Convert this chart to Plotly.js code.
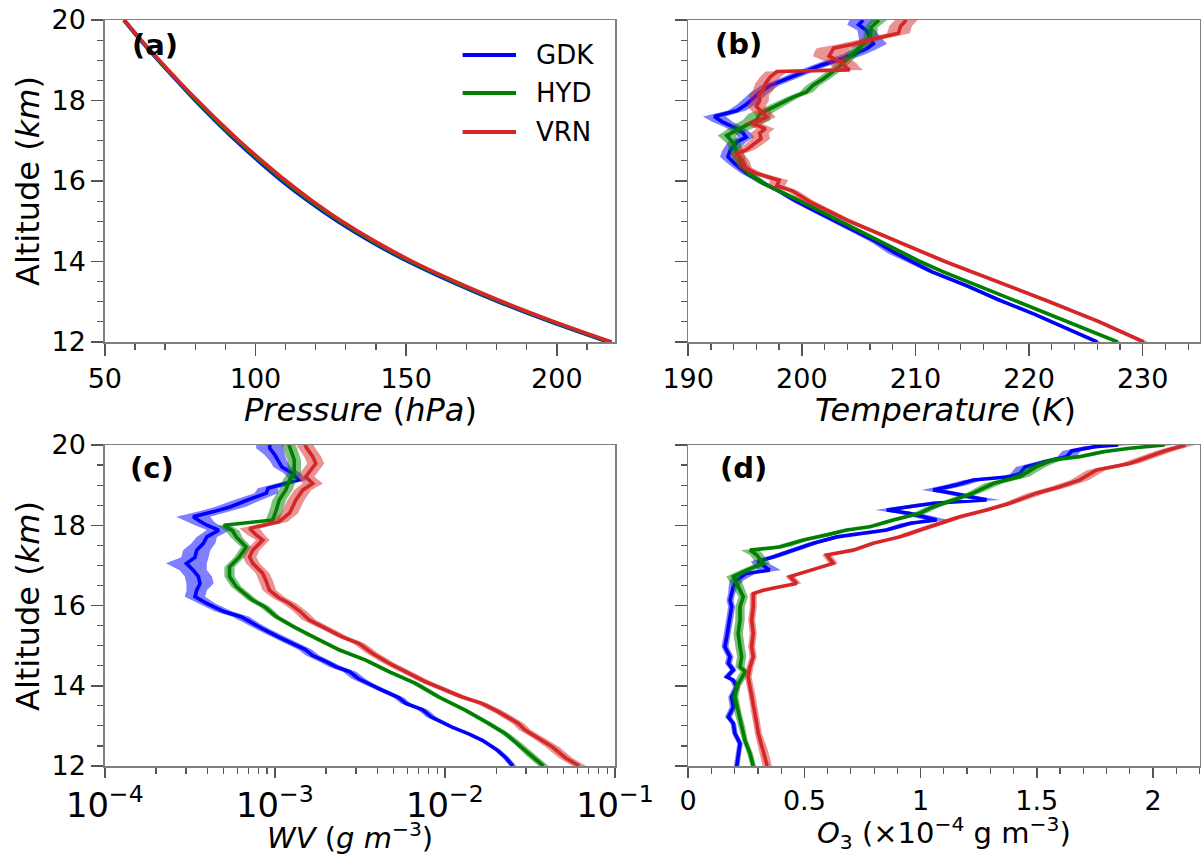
<!DOCTYPE html>
<html><head><meta charset="utf-8">
<script src="https://cdn.plot.ly/plotly-3.0.1.min.js"></script>
<style>html,body{margin:0;padding:0;background:#fff}#chart{width:1201px;height:855px}</style>
</head><body><div id="chart"></div>
<script>
// ---------- DATA ----------
const stations = ['GDK', 'HYD', 'VRN'];

// (a) Pressure (hPa)
const zP = [12,12.5,13,13.5,14,14.5,15,15.5,16,16.5,17,17.5,18,18.5,19,19.5,20];
const pGDK = [217.0,198.0,180.6,164.9,150.6,138.2,127.2,117.5,108.8,100.9,93.5,86.6,80.0,73.8,67.7,61.8,56.3];
const pHYD = [217.5,198.6,181.2,165.6,151.3,138.9,127.9,118.2,109.5,101.5,94.0,87.0,80.4,74.0,67.9,62.0,56.4];
const pVRN = [218.2,199.3,182.0,166.4,152.1,139.7,128.7,119.0,110.2,102.2,94.6,87.5,80.8,74.3,68.1,62.1,56.5];

// (b) Temperature (K): altitude, mean, half-width of shading
const zT_GDK = [12.0,12.35,12.7,13.05,13.4,13.75,14.0,14.2,14.5,14.75,15.0,15.25,15.5,15.75,15.95,16.2,16.43,16.6,16.76,16.97,17.09,17.2,17.34,17.47,17.6,17.75,17.9,18.05,18.2,18.37,18.54,18.7,18.87,19.0,19.15,19.29,19.41,19.55,19.74,19.88,20.0];
const T_GDK  = [226.0,223.2,220.4,217.3,214.5,211.4,209.6,208.3,206.5,204.7,202.9,201.2,199.5,198.0,196.6,195.1,194.1,193.5,193.7,194.3,195.1,194.8,194.0,193.0,192.3,194.3,195.1,195.7,196.3,197.2,198.7,200.1,201.6,203.1,204.6,205.7,206.3,206.0,205.7,205.0,205.4];
const sT_GDK = [0.3,0.3,0.3,0.3,0.4,0.4,0.5,0.7,0.5,0.4,0.4,0.4,0.4,0.4,0.4,0.5,0.6,0.7,0.7,0.8,0.7,0.7,0.8,0.9,1.0,0.8,0.8,0.8,0.8,0.8,0.7,0.8,0.8,1.0,1.0,1.0,1.2,1.0,0.8,1.0,1.2];
const zT_HYD = [12.0,12.35,12.7,13.05,13.4,13.75,14.0,14.5,15.0,15.5,15.94,16.18,16.43,16.68,16.93,17.13,17.22,17.38,17.51,17.67,17.8,17.92,18.08,18.21,18.38,18.54,18.79,19.0,19.15,19.33,19.57,19.82,20.0];
const T_HYD  = [227.8,224.7,221.6,218.6,215.6,212.4,210.4,206.9,203.3,199.9,196.6,195.4,194.7,194.3,194.0,193.4,194.0,195.1,196.0,196.3,197.3,198.1,199.2,200.4,201.0,201.9,203.1,203.9,204.4,205.1,206.0,206.1,206.8];
const sT_HYD = [0.3,0.3,0.3,0.3,0.3,0.3,0.3,0.3,0.3,0.4,0.4,0.5,0.5,0.6,0.6,0.8,0.9,1.2,1.2,1.0,0.8,0.7,0.6,0.6,0.6,0.6,0.6,0.6,0.6,0.6,0.6,0.6,0.7];
const zT_VRN = [12.0,12.5,13.0,13.5,14.0,14.5,15.0,15.5,15.75,15.88,16.02,16.19,16.33,16.5,16.68,16.77,16.94,17.05,17.19,17.3,17.42,17.59,17.68,17.85,18.0,18.13,18.26,18.42,18.58,18.72,18.76,18.85,18.93,19.1,19.2,19.3,19.4,19.5,19.67,19.85,20.0];
const T_VRN  = [230.1,226.2,221.8,217.3,212.6,208.4,204.2,200.6,199.2,197.8,198.0,196.0,195.0,194.8,194.3,195.1,195.9,196.4,196.3,196.8,195.7,196.9,196.6,196.0,196.3,196.2,196.6,196.8,197.2,197.8,204.2,203.8,203.6,202.4,202.6,202.8,204.5,205.8,208.5,208.7,209.2];
const sT_VRN = [0.4,0.4,0.4,0.4,0.4,0.4,0.4,0.5,0.5,0.7,0.8,0.6,0.6,0.6,0.6,0.7,0.8,0.8,0.8,0.8,0.8,0.8,0.8,0.8,0.8,0.9,0.9,0.9,0.9,1.0,1.2,1.2,1.2,1.4,1.5,1.5,1.3,1.0,1.0,1.0,1.0];

// (c) Water vapour (g m-3): altitude, mean, half-width of shading (decades)
const zW_GDK = [12.0,12.2,12.39,12.64,12.8,12.97,13.22,13.4,13.56,13.7,13.89,14.05,14.18,14.35,14.47,14.6,14.76,14.9,15.05,15.2,15.39,15.55,15.72,15.85,15.97,16.05,16.22,16.38,16.55,16.72,16.88,17.05,17.2,17.38,17.55,17.71,17.88,18.0,18.1,18.21,18.34,18.46,18.63,18.8,18.92,19.05,19.13,19.3,19.45,19.6,19.75,19.92,20.0];
const W_GDK  = [0.0251,0.0229,0.0204,0.0166,0.0138,0.0110,0.00832,0.00741,0.00589,0.00537,0.00427,0.00355,0.00309,0.00275,0.00229,0.00200,0.00166,0.00151,0.00126,0.00107,0.000871,0.000741,0.000631,0.000501,0.000437,0.000398,0.000339,0.000347,0.000363,0.000355,0.000331,0.000302,0.000339,0.000347,0.000380,0.000398,0.000468,0.000398,0.000363,0.000331,0.000437,0.000550,0.000692,0.000891,0.000912,0.00117,0.00138,0.00126,0.00110,0.00105,0.00100,0.000933,0.000933];
const sW_GDK = [0.02,0.02,0.02,0.02,0.02,0.02,0.03,0.03,0.03,0.03,0.03,0.03,0.04,0.04,0.04,0.04,0.04,0.04,0.04,0.04,0.04,0.04,0.05,0.05,0.05,0.05,0.06,0.06,0.08,0.08,0.08,0.12,0.08,0.08,0.07,0.06,0.07,0.07,0.08,0.10,0.09,0.09,0.08,0.07,0.06,0.05,0.05,0.05,0.05,0.05,0.06,0.08,0.08];
const zW_HYD = [12.0,12.25,12.56,12.81,13.06,13.39,13.72,14.06,14.35,14.64,14.89,15.22,15.47,15.72,15.97,16.13,16.47,16.72,16.96,17.21,17.46,17.71,17.86,18.0,18.13,18.38,18.63,18.88,19.13,19.29,19.63,19.96,20.0];
const W_HYD  = [0.0380,0.0324,0.0269,0.0226,0.0181,0.0132,0.00920,0.00671,0.00469,0.00342,0.00240,0.00166,0.00129,0.00102,0.000871,0.000741,0.000593,0.000541,0.000541,0.000619,0.000678,0.000593,0.000565,0.000501,0.000970,0.00102,0.00106,0.00116,0.00122,0.00130,0.00130,0.00122,0.00120];
const sW_HYD = [0.03,0.03,0.025,0.025,0.025,0.025,0.025,0.025,0.025,0.025,0.025,0.025,0.025,0.025,0.03,0.03,0.03,0.03,0.03,0.03,0.03,0.035,0.04,0.04,0.04,0.04,0.04,0.04,0.04,0.04,0.04,0.04,0.04];
const zW_VRN = [12.0,12.2,12.48,12.7,12.9,13.06,13.35,13.56,13.72,13.93,14.1,14.35,14.56,14.81,15.05,15.22,15.39,15.64,15.85,16.05,16.2,16.38,16.6,16.8,17.05,17.21,17.38,17.63,17.76,17.92,18.09,18.3,18.63,18.88,19.04,19.21,19.54,19.71,19.96,20.0];
const W_VRN  = [0.0617,0.0513,0.0427,0.0355,0.0295,0.0270,0.0207,0.0165,0.0126,0.00961,0.00769,0.00587,0.00469,0.00374,0.00313,0.00249,0.00209,0.00159,0.00141,0.00122,0.00105,0.000929,0.000891,0.000849,0.000741,0.000710,0.000741,0.000849,0.000776,0.000710,0.00106,0.00122,0.00133,0.00146,0.00167,0.00152,0.00174,0.00167,0.00152,0.00151];
const sW_VRN = [0.04,0.04,0.04,0.035,0.035,0.035,0.035,0.035,0.035,0.035,0.035,0.035,0.035,0.035,0.035,0.035,0.035,0.04,0.04,0.04,0.04,0.04,0.04,0.04,0.04,0.04,0.04,0.04,0.05,0.06,0.05,0.05,0.05,0.05,0.06,0.05,0.05,0.05,0.05,0.05];

// (d) Ozone (x1e-4 g m-3): altitude, mean, half-width of shading
const zO_GDK = [12.0,12.31,12.56,12.81,13.06,13.22,13.47,13.72,13.97,14.14,14.22,14.39,14.56,14.72,14.97,15.22,15.47,15.72,15.97,16.13,16.3,16.47,16.63,16.8,16.88,17.0,17.1,17.21,17.38,17.55,17.71,17.8,17.88,18.05,18.13,18.3,18.38,18.55,18.63,18.72,18.8,18.88,19.0,19.13,19.21,19.29,19.45,19.63,19.71,19.85,19.96,20.0];
const O_GDK  = [0.209,0.216,0.223,0.201,0.194,0.173,0.194,0.187,0.209,0.194,0.166,0.194,0.173,0.18,0.158,0.166,0.173,0.18,0.187,0.18,0.187,0.194,0.209,0.25,0.35,0.32,0.30,0.366,0.452,0.538,0.639,0.753,0.854,0.954,1.069,0.95,0.854,1.054,1.284,1.2,1.14,1.054,1.15,1.226,1.384,1.427,1.45,1.57,1.628,1.65,1.75,1.85];
const sO_GDK = [0.012,0.012,0.012,0.012,0.012,0.015,0.015,0.015,0.015,0.015,0.015,0.015,0.015,0.015,0.015,0.015,0.015,0.015,0.015,0.015,0.015,0.02,0.03,0.04,0.05,0.04,0.03,0.03,0.03,0.03,0.03,0.03,0.03,0.04,0.05,0.05,0.05,0.06,0.06,0.05,0.05,0.05,0.05,0.04,0.04,0.04,0.04,0.04,0.04,0.04,0.05,0.06];
const zO_HYD = [12.0,12.31,12.64,12.97,13.31,13.72,13.97,14.22,14.35,14.47,14.72,14.97,15.3,15.64,15.97,16.22,16.55,16.72,16.88,17.05,17.26,17.38,17.46,17.63,17.76,17.88,17.96,18.13,18.3,18.45,18.63,18.8,19.04,19.21,19.46,19.63,19.71,19.83,19.92,20.0];
const O_HYD  = [0.28,0.266,0.244,0.23,0.215,0.201,0.209,0.23,0.245,0.223,0.23,0.223,0.215,0.223,0.223,0.237,0.209,0.194,0.252,0.323,0.295,0.266,0.395,0.495,0.596,0.682,0.782,0.882,0.997,1.05,1.14,1.226,1.312,1.427,1.499,1.57,1.685,1.785,1.90,2.05];
const sO_HYD = [0.012,0.012,0.012,0.015,0.015,0.015,0.015,0.02,0.02,0.02,0.02,0.02,0.02,0.02,0.02,0.02,0.025,0.03,0.03,0.03,0.03,0.04,0.04,0.03,0.03,0.03,0.03,0.03,0.03,0.03,0.03,0.03,0.04,0.04,0.04,0.04,0.04,0.04,0.04,0.04];
const zO_VRN = [12.0,12.39,12.81,13.31,13.81,14.22,14.47,14.72,14.97,15.3,15.64,15.97,16.3,16.38,16.47,16.55,16.72,16.88,17.05,17.26,17.38,17.55,17.71,17.88,18.05,18.21,18.38,18.55,18.8,18.96,19.13,19.38,19.54,19.7,19.85,20.0];
const O_VRN  = [0.34,0.323,0.302,0.287,0.273,0.258,0.266,0.28,0.273,0.28,0.273,0.28,0.28,0.323,0.395,0.467,0.438,0.524,0.624,0.596,0.71,0.796,0.911,0.997,1.083,1.169,1.284,1.384,1.499,1.599,1.685,1.757,1.90,1.98,2.05,2.14];
const sO_VRN = [0.02,0.02,0.015,0.015,0.015,0.015,0.015,0.015,0.015,0.015,0.015,0.015,0.015,0.02,0.02,0.02,0.02,0.02,0.02,0.02,0.02,0.02,0.03,0.03,0.03,0.03,0.03,0.03,0.04,0.04,0.04,0.04,0.04,0.04,0.04,0.04];

// axis tick settings and titles
const altTicks = [12, 14, 16, 18, 20];
const axisTitles = {
  alt: 'Altitude (<i>km</i>)',
  p: '<i>Pressure</i> (<i>hPa</i>)',
  t: '<i>Temperature</i> (<i>K</i>)',
  wv: '<i>WV</i> (<i>g m</i><sup>−3</sup>)',
  o3: '<i>O</i><sub>3</sub> (×10<sup>−4</sup> g m<sup>−3</sup>)'
};

// ---------- STYLE ----------
const FONT = 'DejaVu Sans, Verdana, sans-serif';
const lineColors = {GDK: '#0000ff', HYD: '#008000', VRN: '#d62728'};
const bandColors = {GDK: 'rgba(0,0,255,0.5)', HYD: 'rgba(0,128,0,0.5)', VRN: 'rgba(214,39,40,0.5)'};

const traces = [];
function band(xa, ya, z, v, s, st, log) {
  const lo = v.map((d, i) => log ? d * Math.pow(10, -s[i]) : d - s[i]);
  const hi = v.map((d, i) => log ? d * Math.pow(10, s[i]) : d + s[i]);
  traces.push({
    type: 'scatter', mode: 'lines', xaxis: xa, yaxis: ya,
    x: lo.concat(hi.slice().reverse()), y: z.concat(z.slice().reverse()),
    fill: 'toself', fillcolor: bandColors[st], line: {width: 0, color: bandColors[st]},
    hoverinfo: 'skip', showlegend: false
  });
}
function line(xa, ya, z, v, st, smooth) {
  traces.push({
    type: 'scatter', mode: 'lines', xaxis: xa, yaxis: ya, x: v, y: z, name: st,
    line: {color: lineColors[st], width: 3.6, shape: smooth ? 'spline' : 'linear', smoothing: 1},
    showlegend: false
  });
}

// (a)
line('x', 'y', zP, pGDK, 'GDK', true);
line('x', 'y', zP, pHYD, 'HYD', true);
line('x', 'y', zP, pVRN, 'VRN', true);
// (b)
band('x2', 'y2', zT_GDK, T_GDK, sT_GDK, 'GDK'); line('x2', 'y2', zT_GDK, T_GDK, 'GDK');
band('x2', 'y2', zT_HYD, T_HYD, sT_HYD, 'HYD'); line('x2', 'y2', zT_HYD, T_HYD, 'HYD');
band('x2', 'y2', zT_VRN, T_VRN, sT_VRN, 'VRN'); line('x2', 'y2', zT_VRN, T_VRN, 'VRN');
// (c)
band('x3', 'y3', zW_GDK, W_GDK, sW_GDK, 'GDK', true); line('x3', 'y3', zW_GDK, W_GDK, 'GDK');
band('x3', 'y3', zW_HYD, W_HYD, sW_HYD, 'HYD', true); line('x3', 'y3', zW_HYD, W_HYD, 'HYD');
band('x3', 'y3', zW_VRN, W_VRN, sW_VRN, 'VRN', true); line('x3', 'y3', zW_VRN, W_VRN, 'VRN');
// (d)
band('x4', 'y4', zO_GDK, O_GDK, sO_GDK, 'GDK'); line('x4', 'y4', zO_GDK, O_GDK, 'GDK');
band('x4', 'y4', zO_HYD, O_HYD, sO_HYD, 'HYD'); line('x4', 'y4', zO_HYD, O_HYD, 'HYD');
band('x4', 'y4', zO_VRN, O_VRN, sO_VRN, 'VRN'); line('x4', 'y4', zO_VRN, O_VRN, 'VRN');

function ax(extra) {
  const minorBase = {ticks: 'outside', ticklen: 6, tickwidth: 1.2, tickcolor: '#555', showgrid: false};
  const base = {
    showline: true, linecolor: '#808080', linewidth: 1.5, mirror: true,
    ticks: 'outside', ticklen: 12, tickwidth: 1.5, tickcolor: '#555',
    showgrid: false, zeroline: false, fixedrange: true,
    tickfont: {family: FONT, size: 27, color: '#000'}
  };
  const out = Object.assign(base, extra);
  out.minor = Object.assign(minorBase, extra.minor || {});
  return out;
}
const titleFont = {family: FONT, size: 32, color: '#000'};
const titleFontLow = {family: FONT, size: 29, color: '#000'};
const dom = {
  xL: [104.8 / 1201, 615 / 1201], xR: [688.2 / 1201, 1199.5 / 1201],
  yT: [1 - 342 / 855, 1 - 20 / 855], yB: [1 - 766 / 855, 1 - 445 / 855]
};
const yBase = (d, anchor, labels) => ax({
  domain: d, anchor: anchor, range: [12, 20], tickvals: altTicks, minor: {dtick: 0.5, tick0: 12},
  showticklabels: labels
});

const layout = {
  width: 1201, height: 855, margin: {l: 0, r: 0, t: 0, b: 0},
  paper_bgcolor: '#fff', plot_bgcolor: '#fff', showlegend: false,
  font: {family: FONT, color: '#000'},
  xaxis: ax({domain: dom.xL, anchor: 'y', range: [50, 219.3], tick0: 50, dtick: 50, minor: {dtick: 10, tick0: 50}}),
  yaxis: yBase(dom.yT, 'x', true),
  xaxis2: ax({domain: dom.xR, anchor: 'y2', range: [190, 235], tick0: 190, dtick: 10, minor: {dtick: 2, tick0: 190}}),
  yaxis2: yBase(dom.yT, 'x2', false),
  xaxis3: ax({domain: dom.xL, anchor: 'y3', type: 'log', range: [-4, -1], dtick: 1, exponentformat: 'power', showexponent: 'all',
    ticklen: 10, minor: {dtick: 'D1'}}),
  yaxis3: yBase(dom.yB, 'x3', true),
  xaxis4: ax({domain: dom.xR, anchor: 'y4', range: [0, 2.2], tick0: 0, dtick: 0.5, ticklen: 10, minor: {dtick: 0.1, tick0: 0}}),
  yaxis4: yBase(dom.yB, 'x4', false),
  annotations: [],
  shapes: []
};

// axis titles placed as in the reference (pixel centre positions)
const titlePos = [
  [axisTitles.alt, 28, 181, -90, titleFont], [axisTitles.alt, 28, 606, -90, titleFont],
  [axisTitles.p, 360, 410, 0, titleFont], [axisTitles.t, 945, 410, 0, titleFont],
  [axisTitles.wv, 350, 836, 0, titleFontLow], [axisTitles.o3, 944, 833, 0, titleFontLow]
];
titlePos.forEach(t => layout.annotations.push({
  text: t[0], xref: 'paper', yref: 'paper', x: t[1] / 1201, y: 1 - t[2] / 855, textangle: t[3],
  xanchor: 'center', yanchor: 'middle', showarrow: false, font: t[4], borderpad: 0
}));

// panel labels
const panelLabels = [['(a)', 130, 44.5], ['(b)', 713, 43.5], ['(c)', 128, 468.5], ['(d)', 718, 467.5]];
panelLabels.forEach(p => layout.annotations.push({
  text: '<b>' + p[0] + '</b>', xref: 'paper', yref: 'paper', x: p[1] / 1201, y: 1 - p[2] / 855,
  xanchor: 'left', yanchor: 'middle', showarrow: false, font: {family: FONT, size: 29, color: '#000'}
}));
// legend (drawn in panel a)
const legendRows = [55, 93, 132];
stations.forEach((st, i) => {
  layout.shapes.push({type: 'line', xref: 'paper', yref: 'paper', x0: 462.6 / 1201, x1: 516 / 1201,
    y0: 1 - legendRows[i] / 855, y1: 1 - legendRows[i] / 855, line: {color: lineColors[st], width: 4}});
  layout.annotations.push({text: st, xref: 'paper', yref: 'paper', x: 534 / 1201, y: 1 - legendRows[i] / 855,
    xanchor: 'left', yanchor: 'middle', showarrow: false, font: {family: FONT, size: 26, color: '#000'}});
});

Plotly.newPlot('chart', traces, layout, {displayModeBar: false, staticPlot: true});
</script></body></html>
